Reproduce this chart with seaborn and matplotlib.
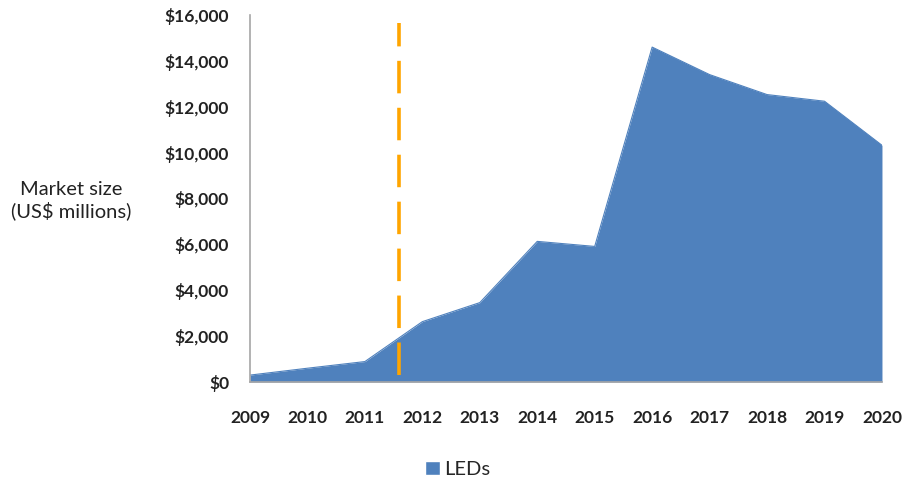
import numpy as np
import pandas as pd
import matplotlib
matplotlib.use('Agg')
import matplotlib.pyplot as plt
import seaborn as sns
from matplotlib.patches import Patch
from matplotlib.ticker import FuncFormatter

years = [2009, 2010, 2011, 2012, 2013, 2014, 2015, 2016, 2017, 2018, 2019, 2020]
market_size = [300, 600, 890, 2630, 3460, 6130, 5910, 14600, 13400, 12530, 12240, 10320]
marker_year = 2011.6
marker_top = 15650
marker_bottom = 300

df = pd.DataFrame({'year': years, 'size': market_size})

sns.set_style('white')
plt.rcParams['font.family'] = ['Lato', 'DejaVu Sans']

fig = plt.figure(figsize=(9.07, 4.8), dpi=100)
ax = fig.add_axes([0.2756, 0.2042, 0.6968, 0.7646])

blue = '#4F81BD'
ax.fill_between(df['year'], 0, df['size'], color=blue, linewidth=0)
sns.lineplot(data=df, x='year', y='size', ax=ax, color=blue, linewidth=0.8)

ax.plot([marker_year, marker_year], [marker_bottom, marker_top], color='#FFA500',
        linewidth=2.6, dashes=(9, 4))

ax.set_xlim(2009, 2020)
ax.set_ylim(0, 16000)
ax.set_xticks(years)
ax.set_yticks(range(0, 16001, 2000))
ax.yaxis.set_major_formatter(FuncFormatter(lambda v, p: '${:,.0f}'.format(v)))

for s in ['top', 'right']:
    ax.spines[s].set_visible(False)
for s in ['left', 'bottom']:
    ax.spines[s].set_color('#A6A6A6')
    ax.spines[s].set_linewidth(1.2)

ax.tick_params(axis='both', which='major', direction='out', length=5, width=1.2,
               color='#A6A6A6', labelcolor='#222222')
ax.tick_params(axis='y', labelsize=12.5, pad=10)
ax.tick_params(axis='x', labelsize=12.5, pad=15)
for lab in ax.get_yticklabels() + ax.get_xticklabels():
    lab.set_fontweight('bold')

ax.set_xlabel('')
ax.set_ylabel('')
fig.text(0.079, 0.583, 'Market size\n(US$ millions)', ha='center', va='center',
         fontsize=14.5, color='#222222', linespacing=1.2)

fig.legend(handles=[Patch(facecolor=blue, label='LEDs')], loc='center',
           bbox_to_anchor=(0.505, 0.022), frameon=False, fontsize=14.5,
           handlelength=0.7, handleheight=0.7, handletextpad=0.25)

fig.savefig('out.png', dpi=100)
